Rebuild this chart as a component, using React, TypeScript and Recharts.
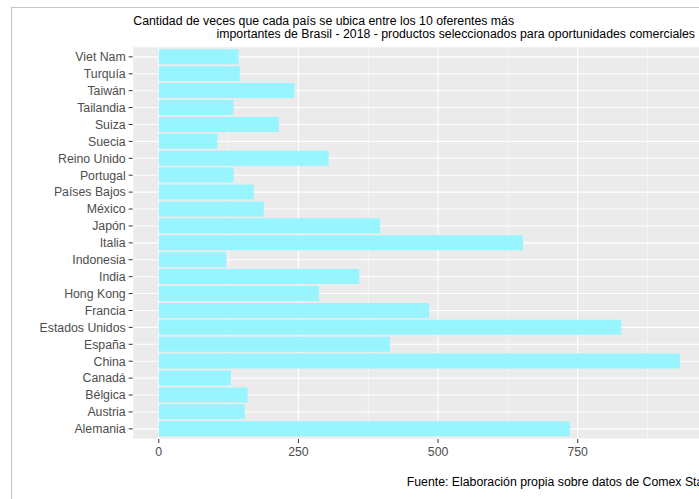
import { Bar, BarChart, CartesianGrid, XAxis, YAxis } from "recharts";

// conteo por país (de arriba hacia abajo, como en el gráfico)
const countries = [
  "Viet Nam",
  "Turquía",
  "Taiwán",
  "Tailandia",
  "Suiza",
  "Suecia",
  "Reino Unido",
  "Portugal",
  "Países Bajos",
  "México",
  "Japón",
  "Italia",
  "Indonesia",
  "India",
  "Hong Kong",
  "Francia",
  "Estados Unidos",
  "España",
  "China",
  "Canadá",
  "Bélgica",
  "Austria",
  "Alemania"
];
const counts = [143, 145, 243, 134, 215, 105, 304, 134, 170, 188, 396, 652, 121, 359, 287, 484, 828, 414, 933, 129, 159, 154, 736];

const majorTicks = [0, 250, 500, 750];
const minorTicks = [125, 375, 625, 875];

const titleLine1 = "Cantidad de veces que cada país se ubica entre los 10 oferentes más";
const titleLine2 = "importantes de Brasil - 2018 - productos seleccionados para oportunidades comerciales";
const caption = "Fuente: Elaboración propia sobre datos de Comex Stat";

const data = countries.map((name, i) => ({ name, count: counts[i] }));
const maxCount = Math.max(...counts);
const xDomain = [-0.05 * maxCount, 1.05 * maxCount];

const font = '"Liberation Sans", Arial, sans-serif';
const textStyle = { fontFamily: font, fontSize: 12.3, lineHeight: "10px", color: "#000", whiteSpace: "nowrap" as const };

export default function App() {
  return (
    <div style={{ position: "absolute", left: 0, top: 0, width: 699, height: 499, overflow: "hidden", background: "#fff" }}>
      <div
        style={{
          position: "absolute",
          left: 11,
          top: 7,
          width: 720,
          height: 520,
          borderLeft: "1px solid #c4c4c4",
          borderTop: "1px solid #c4c4c4"
        }}
      />
      <div style={{ ...textStyle, position: "absolute", left: 133.3, top: 16.4 }}>{titleLine1}</div>
      <div style={{ ...textStyle, position: "absolute", right: 4, top: 29.2 }}>{titleLine2}</div>
      <div style={{ position: "absolute", left: 0, top: 0 }}>
        <BarChart
          width={720}
          height={499}
          data={data}
          layout="vertical"
          margin={{ top: 46.7, right: 14, bottom: 30, left: 0 }}
          barCategoryGap="5%"
        >
          <CartesianGrid fill="#EBEBEB" fillOpacity={1} stroke="#ffffff" strokeWidth={1.07} />
          <CartesianGrid xAxisId="minor" horizontal={false} stroke="#ffffff" strokeWidth={0.53} />
          <XAxis
            type="number"
            domain={xDomain}
            ticks={majorTicks}
            allowDataOverflow
            height={30}
            tickSize={4}
            tickMargin={4}
            axisLine={false}
            tickLine={{ stroke: "#333333" }}
            tick={{ fill: "#4D4D4D", fontSize: 12.3, fontFamily: font }}
          />
          <XAxis xAxisId="minor" type="number" domain={xDomain} ticks={minorTicks} allowDataOverflow hide />
          <YAxis
            type="category"
            dataKey="name"
            width={132.7}
            interval={0}
            tickSize={4}
            tickMargin={3}
            axisLine={false}
            padding={{ top: 1.7, bottom: 1.7 }}
            tickLine={{ stroke: "#333333" }}
            tick={{ fill: "#4D4D4D", fontSize: 12.3, fontFamily: font }}
          />
          <Bar dataKey="count" fill="#98F5FF" isAnimationActive={false} />
        </BarChart>
      </div>
      <div style={{ ...textStyle, position: "absolute", left: 406.7, top: 476.7 }}>{caption}</div>
    </div>
  );
}
